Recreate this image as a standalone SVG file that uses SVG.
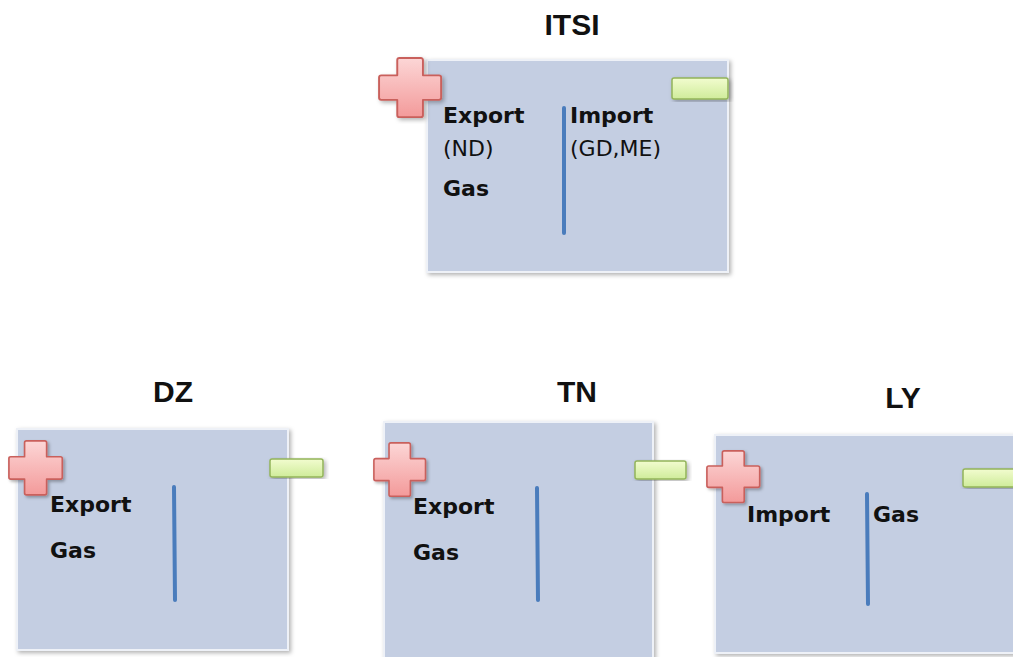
<svg xmlns="http://www.w3.org/2000/svg" width="1013" height="657" viewBox="0 0 1013 657">
<defs>
<linearGradient id="gPlus" x1="0" y1="0" x2="0" y2="1">
<stop offset="0" stop-color="#fcd6d6"/>
<stop offset="1" stop-color="#f39a9a"/>
</linearGradient>
<linearGradient id="gMinus" x1="0" y1="0" x2="0" y2="1">
<stop offset="0" stop-color="#f2fccf"/>
<stop offset="1" stop-color="#cfec9a"/>
</linearGradient>
<filter id="sh" x="-10%" y="-10%" width="120%" height="120%">
<feDropShadow dx="2" dy="2" stdDeviation="2" flood-color="#000" flood-opacity="0.3"/>
</filter>
<path id="plus" d="M20,1 Q18,1 18,3 V18 H3 Q1,18 1,20 V40 Q1,42 3,42 H18 V57 Q18,59 20,59 H40 Q42,59 42,57 V42 H57 Q59,42 59,40 V20 Q59,18 57,18 H42 V3 Q42,1 40,1 Z"/>
</defs>
<style>
.box{fill:#c4cee2;stroke:#eef1f7;stroke-width:2;filter:url(#sh)}
.plus{fill:url(#gPlus);stroke:#c9605c;stroke-width:1.8;stroke-linejoin:round;filter:url(#sh)}
.minus{fill:url(#gMinus);stroke:#93b45a;stroke-width:1.5;filter:url(#sh)}
.div{stroke:#4a7cbc;stroke-width:4;stroke-linecap:round}
.t{font-family:"DejaVu Sans",sans-serif;font-size:22px;fill:#111}
.b{font-weight:bold}
.title{font-family:"Liberation Sans",Arial,sans-serif;font-size:30px;font-weight:bold;fill:#111;text-anchor:middle}
</style>
<rect width="1013" height="657" fill="#fff"/>

<g id="ITSI">
<text class="title" x="572" y="35">ITSI</text>
<rect class="box" x="427" y="60" width="301" height="212"/>
<use href="#plus" class="plus" transform="translate(378,57) scale(1.07,1.02)"/>
<rect class="minus" x="672" y="78" width="56" height="21" rx="2"/>
<line class="div" x1="564" y1="108" x2="564" y2="233"/>
<text class="t b" x="443" y="123">Export</text>
<text class="t" x="443" y="156">(ND)</text>
<text class="t b" x="443" y="196">Gas</text>
<text class="t b" x="570" y="123">Import</text>
<text class="t" x="570" y="156">(GD,ME)</text>
</g>

<g id="DZ">
<text class="title" x="173" y="402">DZ</text>
<rect class="box" x="17" y="429" width="271" height="221"/>
<use href="#plus" class="plus" transform="translate(8,440) scale(0.92,0.93)"/>
<rect class="minus" x="270" y="459" width="53" height="18" rx="2"/>
<line class="div" x1="174" y1="487" x2="175" y2="600"/>
<text class="t b" x="50" y="512">Export</text>
<text class="t b" x="50" y="558">Gas</text>
</g>

<g id="TN">
<text class="title" x="577" y="402">TN</text>
<rect class="box" x="384" y="422" width="269" height="240"/>
<use href="#plus" class="plus" transform="translate(373,442) scale(0.89,0.92)"/>
<rect class="minus" x="635" y="461" width="51" height="18" rx="2"/>
<line class="div" x1="537" y1="488" x2="538" y2="600"/>
<text class="t b" x="413" y="514">Export</text>
<text class="t b" x="413" y="560">Gas</text>
</g>

<g id="LY">
<text class="title" x="903" y="408">LY</text>
<rect class="box" x="715" y="435" width="310" height="218"/>
<use href="#plus" class="plus" transform="translate(706,450) scale(0.91,0.89)"/>
<rect class="minus" x="963" y="469" width="56" height="18" rx="2"/>
<line class="div" x1="867" y1="494" x2="868" y2="604"/>
<text class="t b" x="747" y="522">Import</text>
<text class="t b" x="873" y="522">Gas</text>
</g>

<g id="connectors"></g>
</svg>
